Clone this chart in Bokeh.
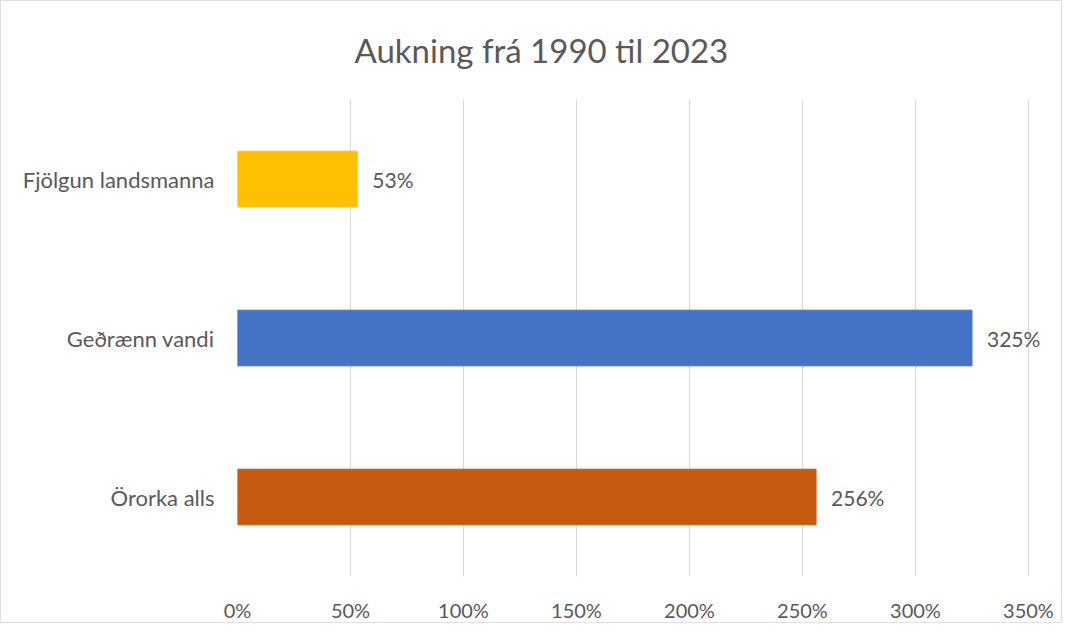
from bokeh.plotting import figure
from bokeh.models import FactorRange, Range1d, NumeralTickFormatter, ColumnDataSource, FixedTicker, Title
from bokeh.embed import file_html
from bokeh.resources import INLINE
from bokeh.core.properties import value

title_text = "Aukning frá 1990 til 2023"
categories = ["Fjölgun landsmanna", "Geðrænn vandi", "Örorka alls"]
increase = [0.53, 3.25, 2.56]
colors = ["#FFC000", "#4472C4", "#C55A11"]
x_ticks = [0, 0.5, 1.0, 1.5, 2.0, 2.5, 3.0, 3.5]

FONT = "Lato"
TXT = "#595959"

src = ColumnDataSource(dict(
    cat=categories,
    val=increase,
    color=colors,
    lbl=[f"{round(v*100)}%" for v in increase],
))

W, H = 1062, 623
p = figure(
    width=W, height=H,
    y_range=FactorRange(*reversed(categories)),
    x_range=Range1d(0, 3.655),
    output_backend="svg", toolbar_location=None,
    min_border_left=236, min_border_right=0, min_border_top=0, min_border_bottom=48,
)
p.styles = {"border": "1px solid #e0e0e0"}
p.outline_line_color = None
p.background_fill_color = "white"
p.border_fill_color = "white"

p.hbar(y="cat", right="val", left=0, height=0.35, color="color", source=src)
p.text(x="val", y="cat", text="lbl", source=src, x_offset=15,
       text_font=value(FONT), text_font_size="21px", text_color=TXT,
       text_baseline="middle", text_align="left")

p.xaxis.ticker = FixedTicker(ticks=x_ticks)
p.xaxis.formatter = NumeralTickFormatter(format="0%")
for ax in (p.xaxis[0], p.yaxis[0]):
    ax.axis_line_color = None
    ax.major_tick_line_color = None
    ax.minor_tick_line_color = None
    ax.major_label_text_font = FONT
    ax.major_label_text_color = TXT
p.xaxis.major_label_text_font_size = "20px"
p.yaxis.major_label_text_font_size = "22px"
p.xaxis.major_label_standoff = 15
p.yaxis.major_label_standoff = 17

p.xgrid.grid_line_color = "#d9d9d9"
p.xgrid.grid_line_width = 1
p.ygrid.grid_line_color = None

p.title = Title(text=title_text, align="left", offset=117, standoff=56,
                vertical_align="top",
                text_font=FONT, text_font_size="33px", text_color=TXT,
                text_font_style="normal")

open("out.html", "w").write(file_html(p, INLINE))
